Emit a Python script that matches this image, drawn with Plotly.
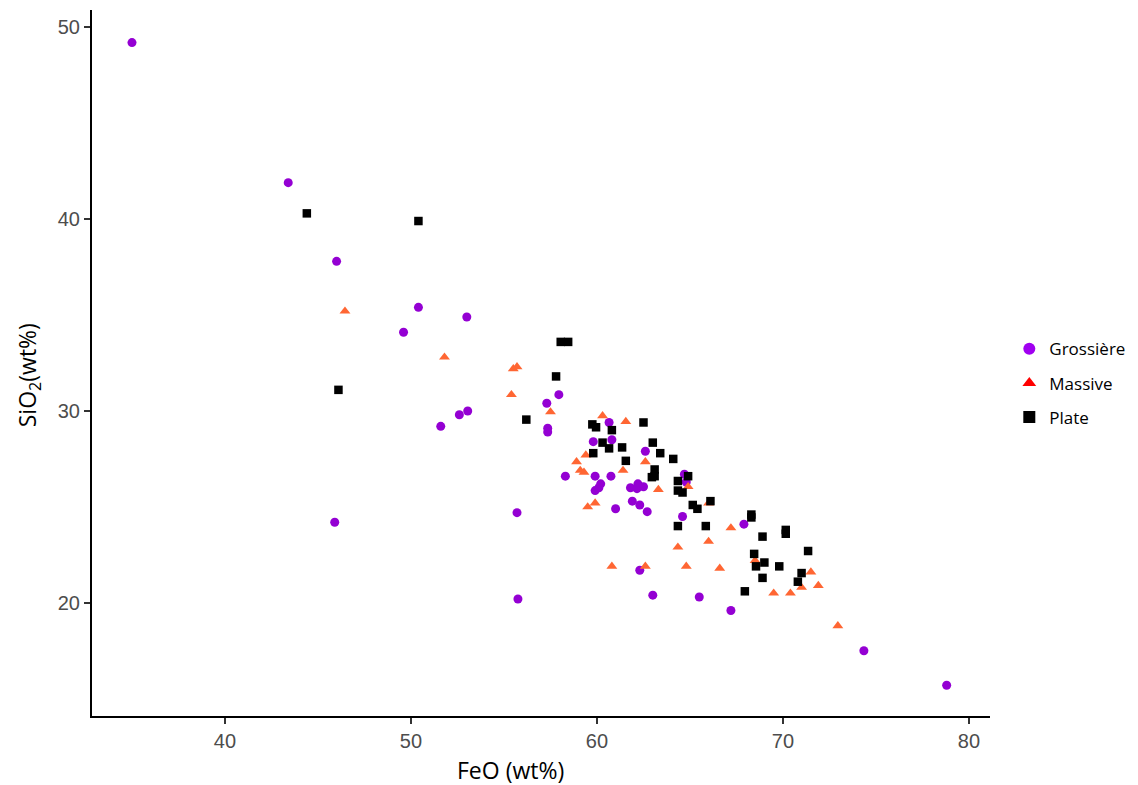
import plotly.graph_objects as go

# Grossière (purple circles)
gros_feo = [35.0, 43.4, 46.0, 45.9, 50.4, 49.6, 53.0, 51.6, 52.6, 53.05, 55.7, 55.75,
            57.3, 57.35, 57.35, 57.95, 58.3, 60.65, 60.8, 59.8, 62.6, 59.9, 60.75, 60.2,
            60.1, 59.9, 61.8, 62.2, 62.15, 62.5, 61.9, 62.3, 62.7, 61.0, 64.7, 64.8,
            64.6, 67.9, 62.3, 63.0, 65.5, 67.2, 74.35, 78.8]
gros_si = [49.2, 41.9, 37.8, 24.2, 35.4, 34.1, 34.9, 29.2, 29.8, 30.0, 24.7, 20.2,
           30.4, 29.1, 28.9, 30.85, 26.6, 29.4, 28.5, 28.4, 27.9, 26.6, 26.6, 26.2,
           26.0, 25.85, 26.0, 26.2, 25.95, 26.05, 25.3, 25.1, 24.75, 24.9, 26.7, 26.3,
           24.5, 24.1, 21.7, 20.4, 20.3, 19.6, 17.5, 15.7]

# Massive (orange triangles)
mass_feo = [46.45, 51.8, 55.5, 55.7, 55.4, 57.5, 60.3, 61.55, 59.4, 58.9, 59.1, 59.3,
            61.4, 62.6, 63.3, 59.5, 59.9, 64.9, 66.0, 67.2, 66.0, 64.35, 60.8, 62.6,
            64.8, 66.6, 68.5, 71.5, 71.9, 71.0, 69.5, 70.4, 72.95]
mass_si = [35.2, 32.8, 32.2, 32.3, 30.85, 29.95, 29.75, 29.45, 27.7, 27.35, 26.9, 26.8,
           26.9, 27.35, 25.9, 25.0, 25.2, 26.05, 25.2, 23.9, 23.2, 22.9, 21.9, 21.9,
           21.9, 21.8, 22.2, 21.6, 20.9, 20.8, 20.5, 20.5, 18.8]

# Plate (black squares)
plate_feo = [44.4, 50.4, 46.1, 56.2, 58.05, 58.45, 57.8, 59.75, 59.95, 60.8, 60.3, 60.65,
             61.35, 62.5, 63.0, 59.8, 61.55, 63.4, 64.1, 63.1, 62.95, 63.1, 64.35, 64.9,
             64.35, 64.6, 65.15, 65.4, 66.1, 64.35, 65.85, 68.3, 68.3, 68.9, 70.15, 70.15,
             71.35, 68.45, 69.0, 68.55, 69.8, 68.9, 71.0, 70.8, 67.95]
plate_si = [40.3, 39.9, 31.1, 29.55, 33.6, 33.6, 31.8, 29.3, 29.15, 29.0, 28.35, 28.05,
            28.1, 29.4, 28.35, 27.8, 27.4, 27.8, 27.5, 26.95, 26.55, 26.6, 26.35, 26.6,
            25.85, 25.75, 25.1, 24.9, 25.3, 24.0, 24.0, 24.6, 24.45, 23.45, 23.8, 23.6,
            22.7, 22.55, 22.1, 21.9, 21.9, 21.3, 21.55, 21.1, 20.6]

groups = ["Grossière", "Massive", "Plate"]
x_ticks = [40, 50, 60, 70, 80]
y_ticks = [20, 30, 40, 50]

fig = go.Figure()
fig.add_trace(go.Scatter(x=gros_feo, y=gros_si, mode="markers", showlegend=False,
                         marker=dict(symbol="circle", size=9, color="#9400D3")))
fig.add_trace(go.Scatter(x=mass_feo, y=mass_si, mode="markers", showlegend=False,
                         marker=dict(symbol="triangle-up", size=9.5, color="#FF6633")))
fig.add_trace(go.Scatter(x=plate_feo, y=plate_si, mode="markers", showlegend=False,
                         marker=dict(symbol="square", size=8.5, color="#000000")))

# legend entries
leg_colors = ["#A000F0", "#FF0000", "#000000"]
leg_symbols = ["circle", "triangle-up", "square"]
leg_sizes = [8, 8, 9]
for g, c, s, z in zip(groups, leg_colors, leg_symbols, leg_sizes):
    fig.add_trace(go.Scatter(x=[None], y=[None], mode="markers", name=g, legendgroup=g,
                             marker=dict(symbol=s, size=z, color=c)))

axis_common = dict(showgrid=False, zeroline=False, showline=True, linecolor="black",
                   linewidth=2, ticks="outside", ticklen=6, tickwidth=1.5,
                   tickcolor="#333333", tickfont=dict(family="Liberation Sans", size=20,
                                                      color="#4D4D4D"))

fig.update_layout(
    width=1130, height=777,
    paper_bgcolor="white", plot_bgcolor="white",
    margin=dict(l=84, r=148, t=2, b=69, autoexpand=False),
    xaxis=dict(range=[32.85, 81.13], tickvals=x_ticks, **axis_common),
    yaxis=dict(range=[14.1, 50.9], tickvals=y_ticks, **axis_common),
    legend=dict(x=1.0215, y=0.545, xanchor="left", yanchor="top",
                font=dict(family="Open Sans", size=17, color="black"),
                bgcolor="rgba(0,0,0,0)", itemsizing="constant", tracegroupgap=9,
                itemwidth=30),
    annotations=[
        dict(text="FeO (wt%)", x=0.4655, y=-0.077, xref="paper", yref="paper",
             xanchor="center", yanchor="middle", showarrow=False,
             font=dict(family="Open Sans", size=23, color="black")),
        dict(text="SiO<sub>2</sub>(wt%)", x=-0.071, y=0.483, xref="paper", yref="paper",
             xanchor="center", yanchor="middle", showarrow=False, textangle=-90,
             font=dict(family="Open Sans", size=23, color="black")),
    ],
)

fig.write_html("out.html")
